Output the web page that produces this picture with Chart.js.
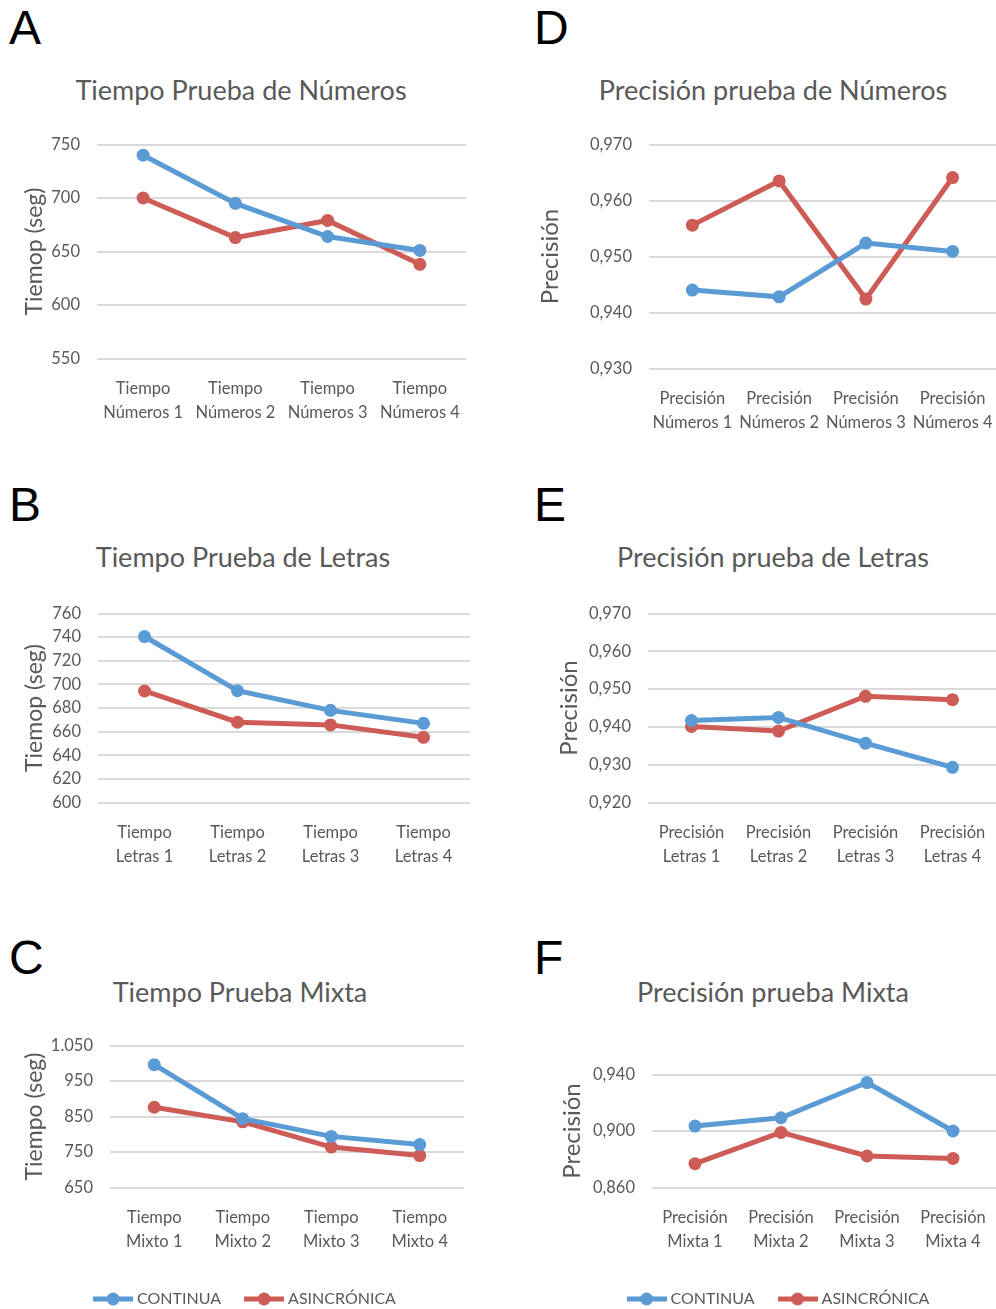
<!DOCTYPE html>
<html>
<head>
<meta charset="utf-8">
<script src="https://cdn.jsdelivr.net/npm/chart.js@4.4.1/dist/chart.umd.min.js"></script>
<style>
body { margin: 0; background: #fff; width: 996px; height: 1309px; position: relative; overflow: hidden; font-family: Lato, sans-serif; }
canvas { position: absolute; }
.letter { position: absolute; font-family: "Liberation Sans", Arial, sans-serif; font-size: 48px; line-height: 1; color: #000; }
.title { position: absolute; width: 480px; text-align: center; font-size: 27px; line-height: 1; color: #595959; }
</style>
</head>
<body>
<div class="letter" style="left:9px;top:4px">A</div>
<div class="letter" style="left:534px;top:4px">D</div>
<div class="letter" style="left:9px;top:481px">B</div>
<div class="letter" style="left:534px;top:481px">E</div>
<div class="letter" style="left:9px;top:934px">C</div>
<div class="letter" style="left:534px;top:934px">F</div>

<div class="title" style="left:1px;top:76px">Tiempo Prueba de Números</div>
<div class="title" style="left:533px;top:76px">Precisión prueba de Números</div>
<div class="title" style="left:3px;top:543px">Tiempo Prueba de Letras</div>
<div class="title" style="left:533px;top:543px">Precisión prueba de Letras</div>
<div class="title" style="left:0px;top:978px">Tiempo Prueba Mixta</div>
<div class="title" style="left:533px;top:978px">Precisión prueba Mixta</div>

<canvas id="chartA"></canvas>
<canvas id="chartD"></canvas>
<canvas id="chartB"></canvas>
<canvas id="chartE"></canvas>
<canvas id="chartC"></canvas>
<canvas id="chartF"></canvas>

<script>
"use strict";

const SERIES = ["CONTINUA", "ASINCRÓNICA"];

// A - tiempo numeros
const catsA = [["Tiempo", "Números 1"], ["Tiempo", "Números 2"], ["Tiempo", "Números 3"], ["Tiempo", "Números 4"]];
const contA = [740, 695, 664, 651];
const asinA = [700, 663, 679, 638];
const yA = [550, 750, 50];

// D - precision numeros
const catsD = [["Precisión", "Números 1"], ["Precisión", "Números 2"], ["Precisión", "Números 3"], ["Precisión", "Números 4"]];
const contD = [0.9440, 0.9428, 0.9524, 0.9509];
const asinD = [0.9556, 0.9635, 0.9424, 0.9641];
const yD = [0.93, 0.97, 0.01];

// B - tiempo letras
const catsB = [["Tiempo", "Letras 1"], ["Tiempo", "Letras 2"], ["Tiempo", "Letras 3"], ["Tiempo", "Letras 4"]];
const contB = [740.5, 694.6, 678, 667];
const asinB = [694.4, 668, 665.7, 655.2];
const yB = [600, 760, 20];

// E - precision letras
const catsE = [["Precisión", "Letras 1"], ["Precisión", "Letras 2"], ["Precisión", "Letras 3"], ["Precisión", "Letras 4"]];
const contE = [0.9417, 0.9425, 0.9357, 0.9293];
const asinE = [0.9401, 0.9389, 0.9481, 0.9472];
const yE = [0.92, 0.97, 0.01];

// C - tiempo mixto
const catsC = [["Tiempo", "Mixto 1"], ["Tiempo", "Mixto 2"], ["Tiempo", "Mixto 3"], ["Tiempo", "Mixto 4"]];
const contC = [996, 844, 794, 771];
const asinC = [876, 835, 764, 740];
const yC = [650, 1050, 100];

// F - precision mixta
const catsF = [["Precisión", "Mixta 1"], ["Precisión", "Mixta 2"], ["Precisión", "Mixta 3"], ["Precisión", "Mixta 4"]];
const contF = [0.9035, 0.9094, 0.9343, 0.9000];
const asinF = [0.8769, 0.8990, 0.8823, 0.8806];
const yF = [0.86, 0.94, 0.04];

const BLUE = "#5B9BD5";
const RED = "#CD5C57";
const GREY = "#595959";
const FONT = "Lato";

function intFmt(v) {
    const s = String(Math.round(v));
    return s.length > 3 ? s.slice(0, s.length - 3) + "." + s.slice(-3) : s;
}
function decFmt(v) {
    return v.toFixed(3).replace(".", ",");
}

function legendIcon(color) {
    const c = document.createElement("canvas");
    c.width = 40; c.height = 14;
    const g = c.getContext("2d");
    g.strokeStyle = color; g.lineWidth = 5;
    g.beginPath(); g.moveTo(0, 7); g.lineTo(40, 7); g.stroke();
    g.fillStyle = color;
    g.beginPath(); g.arc(20, 7, 6.5, 0, Math.PI * 2); g.fill();
    return c;
}
const ICONS = [legendIcon(BLUE), legendIcon(RED)];

// box = canvas rect, area = wanted plot area (page px)
function drawPanel(id, box, area, cats, cont, asin, yr, yTitle, titleX, titleSize, fmt, legend, padL) {
    const cv = document.getElementById(id);
    cv.width = box.w; cv.height = box.h;
    cv.style.left = box.l + "px"; cv.style.top = box.t + "px";
    cv.style.width = box.w + "px"; cv.style.height = box.h + "px";
    padL = padL || 0;

    new Chart(cv, {
        type: "line",
        data: {
            labels: cats,
            datasets: [
                {label: SERIES[0], data: cont, borderColor: BLUE, backgroundColor: BLUE,
                 borderWidth: 5, pointRadius: 6.5, pointBorderWidth: 0, pointHoverRadius: 6.5},
                {label: SERIES[1], data: asin, borderColor: RED, backgroundColor: RED,
                 borderWidth: 5, pointRadius: 6.5, pointBorderWidth: 0, pointHoverRadius: 6.5}
            ]
        },
        options: {
            responsive: false,
            animation: false,
            events: [],
            layout: {padding: {left: padL, right: box.l + box.w - area.r, top: area.t - box.t, bottom: 0}},
            plugins: {
                tooltip: {enabled: false},
                legend: {
                    display: legend,
                    position: "bottom",
                    labels: {
                        usePointStyle: true,
                        pointStyleWidth: 32,
                        boxHeight: 14,
                        padding: 27,
                        color: GREY,
                        font: {family: FONT, size: 16},
                        generateLabels(chart) {
                            const items = Chart.defaults.plugins.legend.labels.generateLabels(chart);
                            items.forEach((it, i) => { it.pointStyle = ICONS[i]; });
                            return items;
                        }
                    }
                }
            },
            scales: {
                x: {
                    offset: true,
                    grid: {display: false},
                    border: {display: false},
                    ticks: {color: GREY, font: {family: FONT, size: 16.5, lineHeight: 1.5}, padding: 9.5, maxRotation: 0, autoSkip: false},
                    afterFit(s) {
                        const lg = s.chart.legend ? s.chart.legend.height : 0;
                        s.height = box.t + box.h - area.b - lg;
                    }
                },
                y: {
                    min: yr[0], max: yr[1],
                    grid: {color: "#D9D9D9", lineWidth: 2, drawTicks: false},
                    border: {display: false},
                    ticks: {stepSize: yr[2], autoSkip: false, color: GREY, font: {family: FONT, size: 16.5}, padding: 17, callback: fmt},
                    title: {display: true, text: yTitle, color: GREY, font: {family: FONT, size: titleSize, lineHeight: 1.2},
                            padding: {top: titleX - box.l - padL - titleSize * 0.6, bottom: 0}},
                    afterFit(s) { s.width = area.l - box.l - padL; }
                }
            }
        }
    });
}

drawPanel("chartA", {l: 0, t: 110, w: 480, h: 330}, {l: 97, t: 144.5, r: 466, b: 358.5},
    catsA, contA, asinA, yA, "Tiemop (seg)", 35, 23, intFmt, false);
drawPanel("chartD", {l: 525, t: 110, w: 480, h: 330}, {l: 649, t: 144.5, r: 996, b: 368.5},
    catsD, contD, asinD, yD, "Precisión", 550, 24, decFmt, false);
drawPanel("chartB", {l: 0, t: 579, w: 480, h: 291}, {l: 98, t: 613.5, r: 470, b: 802.5},
    catsB, contB, asinB, yB, "Tiemop (seg)", 35, 23, intFmt, false);
drawPanel("chartE", {l: 525, t: 579, w: 480, h: 291}, {l: 648, t: 613.5, r: 996, b: 802.5},
    catsE, contE, asinE, yE, "Precisión", 569, 24, decFmt, false);
drawPanel("chartC", {l: 0, t: 1011, w: 480, h: 306}, {l: 110, t: 1045.5, r: 464, b: 1187.5},
    catsC, contC, asinC, yC, "Tiempo (seg)", 35, 23, intFmt, true, 29);
drawPanel("chartF", {l: 525, t: 1030, w: 480, h: 287}, {l: 652, t: 1074.5, r: 996, b: 1187.5},
    catsF, contF, asinF, yF, "Precisión", 572, 24, decFmt, true, 39);
</script>
</body>
</html>
